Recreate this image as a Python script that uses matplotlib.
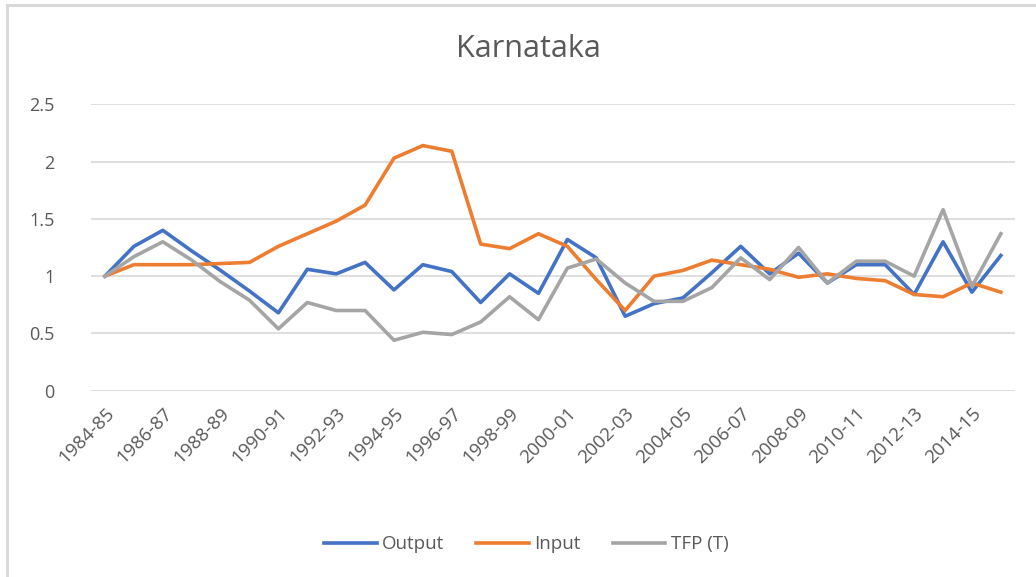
import matplotlib.pyplot as plt
from matplotlib.lines import Line2D

years = ['1984-85', '1985-86', '1986-87', '1987-88', '1988-89', '1989-90', '1990-91', '1991-92',
         '1992-93', '1993-94', '1994-95', '1995-96', '1996-97', '1997-98', '1998-99', '1999-00',
         '2000-01', '2001-02', '2002-03', '2003-04', '2004-05', '2005-06', '2006-07', '2007-08',
         '2008-09', '2009-10', '2010-11', '2011-12', '2012-13', '2013-14', '2014-15', '2015-16']

output = [1.00, 1.26, 1.40, 1.22, 1.05, 0.87, 0.68, 1.06, 1.02, 1.12, 0.88, 1.10, 1.04, 0.77,
          1.02, 0.85, 1.32, 1.16, 0.65, 0.76, 0.81, 1.03, 1.26, 1.02, 1.20, 0.94, 1.10, 1.10,
          0.84, 1.30, 0.86, 1.18]
inputs = [1.00, 1.10, 1.10, 1.10, 1.11, 1.12, 1.26, 1.37, 1.48, 1.62, 2.03, 2.14, 2.09, 1.28,
          1.24, 1.37, 1.26, 0.97, 0.70, 1.00, 1.05, 1.14, 1.10, 1.06, 0.99, 1.02, 0.98, 0.96,
          0.84, 0.82, 0.94, 0.86]
tfp = [1.00, 1.17, 1.30, 1.14, 0.95, 0.79, 0.54, 0.77, 0.70, 0.70, 0.44, 0.51, 0.49, 0.60,
       0.82, 0.62, 1.07, 1.15, 0.94, 0.78, 0.78, 0.90, 1.16, 0.97, 1.25, 0.94, 1.13, 1.13,
       1.00, 1.58, 0.91, 1.37]

plt.rcParams['font.family'] = ['Open Sans', 'DejaVu Sans']

fig = plt.figure(figsize=(10.36, 5.77), dpi=100)
ax = fig.add_axes([0.0874, 0.3229, 0.8926, 0.4963])

x = list(range(len(years)))
ax.plot(x, output, color='#4472C4', lw=2.6, label='Output', solid_joinstyle='round')
ax.plot(x, inputs, color='#ED7D31', lw=2.6, label='Input', solid_joinstyle='round')
ax.plot(x, tfp, color='#A5A5A5', lw=2.6, label='TFP (T)', solid_joinstyle='round')

ax.set_xlim(-0.5, len(years) - 0.5)
ax.set_ylim(0, 2.5)
ax.set_yticks([0, 0.5, 1, 1.5, 2, 2.5])
ax.set_yticklabels(['0', '0.5', '1', '1.5', '2', '2.5'], fontsize=13, color='#595959')
ax.set_xticks(x[::2])
ax.set_xticklabels(years[::2], rotation=45, ha='right', rotation_mode='anchor',
                   fontsize=13.5, color='#595959')
ax.tick_params(axis='both', length=0)
ax.tick_params(axis='y', pad=26)
ax.tick_params(axis='x', pad=10)
ax.grid(axis='y', color='#D9D9D9', lw=1.2)
ax.set_axisbelow(True)
for s in ax.spines.values():
    s.set_visible(False)

fig.text(0.5096, 0.915, 'Karnataka', ha='center', va='center', fontsize=22, color='#595959')

fig.legend(loc='center', bbox_to_anchor=(0.508, 0.057), ncol=3, frameon=False,
           fontsize=13.5, handlelength=2.8, handletextpad=0.3, columnspacing=1.7,
           labelcolor='#595959')

# chart border
fig.add_artist(Line2D([0.0068, 1.0], [0.991, 0.991], color='#D9D9D9', lw=2.2))
fig.add_artist(Line2D([0.0068, 0.0068], [0.0, 0.991], color='#D9D9D9', lw=2.2))

fig.savefig('out.png', dpi=100)
